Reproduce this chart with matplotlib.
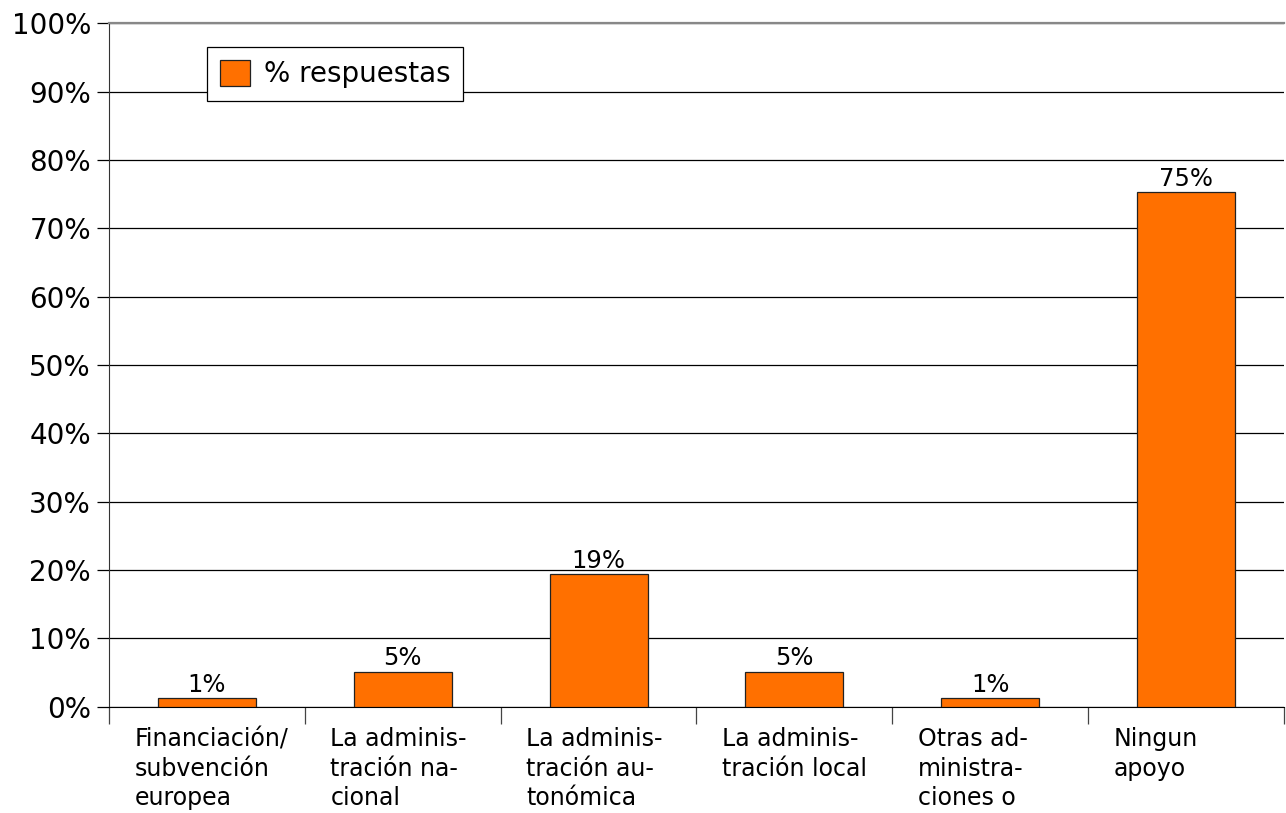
import matplotlib.pyplot as plt
import numpy as np
from matplotlib.ticker import FuncFormatter, FixedLocator

categories = [
    "Financiación/\nsubvención\neuropea",
    "La adminis-\ntración na-\ncional",
    "La adminis-\ntración au-\ntonómica",
    "La adminis-\ntración local",
    "Otras ad-\nministra-\nciones o",
    "Ningun\napoyo",
]
values = [1.2, 5.1, 19.4, 5.1, 1.2, 75.3]
value_labels = ["1%", "5%", "19%", "5%", "1%", "75%"]
series_name = "% respuestas"

bar_color = "#ff7000"

fig = plt.figure(figsize=(12.86, 8.13), dpi=100)
ax = fig.add_axes([0.0848, 0.1308, 0.9136, 0.8405])

x = np.arange(len(categories))
bars = ax.bar(x, values, width=0.5, color=bar_color, edgecolor="#222222",
              linewidth=0.9, label=series_name, zorder=3)

for b, lbl in zip(bars, value_labels):
    ax.annotate(lbl, (b.get_x() + b.get_width() / 2, b.get_height()),
                xytext=(0, 1), textcoords="offset points",
                ha="center", va="bottom", fontsize=17.5, zorder=4)

ax.set_xlim(-0.5, len(categories) - 0.5)
ax.set_ylim(0, 100)
ax.set_yticks(np.arange(0, 101, 10))
ax.yaxis.set_major_formatter(FuncFormatter(lambda v, p: f"{v:.0f}%"))
ax.yaxis.grid(True, color="black", linewidth=0.9, zorder=0)
ax.tick_params(axis="y", labelsize=20, length=9, width=0.9, pad=4)

# category boundaries get the tick marks, labels sit under each bar
ax.xaxis.set_minor_locator(FixedLocator(np.arange(-0.5, len(categories), 1.0)))
ax.set_xticks(x - 0.37)
ax.set_xticklabels(categories, ha="left", multialignment="left",
                   fontsize=17, linespacing=1.27)
ax.tick_params(axis="x", which="major", length=0, pad=15)
ax.tick_params(axis="x", which="minor", length=12, width=0.9, color="#444444")

ax.spines["right"].set_visible(False)
ax.spines["top"].set_color("#888888")
ax.spines["top"].set_linewidth(1.6)
ax.spines["left"].set_color("#333333")
ax.spines["bottom"].set_color("black")

leg = ax.legend(loc="upper left", bbox_to_anchor=(0.0834, 0.9653),
                borderaxespad=0, fancybox=False, edgecolor="black",
                fontsize=20, handlelength=1.1, handleheight=1.1,
                handletextpad=0.5, borderpad=0.45, framealpha=1)
leg.get_frame().set_linewidth(0.9)

fig.savefig("out.png", dpi=100)
